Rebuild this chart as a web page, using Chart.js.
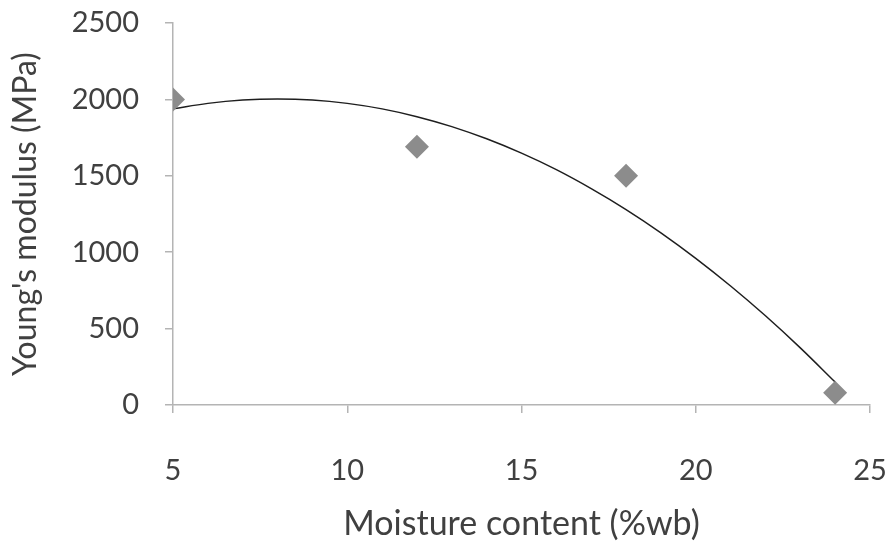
<!DOCTYPE html>
<html>
<head>
<meta charset="utf-8">
<script src="https://cdn.jsdelivr.net/npm/chart.js@4.4.1/dist/chart.umd.min.js"></script>
<style>
  html, body { margin: 0; padding: 0; background: #fff; }
  #wrap { width: 888px; height: 546px; }
</style>
</head>
<body>
<div id="wrap"><canvas id="chart" width="888" height="546"></canvas></div>
<script>
// measured points
const moisture = [5, 12, 18, 24];
const modulus = [2000, 1690, 1500, 80];

// trend line
const trendX = [5, 6, 7, 8, 9, 10, 11, 12, 13, 14, 15, 16, 17, 18, 19, 20, 21, 22, 23, 24];
const trendY = [1938, 1974, 1996, 2003, 1996, 1974, 1938, 1887, 1822, 1742, 1648, 1540, 1416, 1279, 1127, 960, 779, 584, 374, 150];

const xTicks = [5, 10, 15, 20, 25];
const yTicks = [0, 500, 1000, 1500, 2000, 2500];

const textColor = '#404040';
const axisColor = '#b4b4b4';
const font = 'Lato, "Open Sans", sans-serif';

var ctx = document.getElementById('chart');
new Chart(ctx, {
  type: 'scatter',
  data: {
    datasets: [{
      label: 'trend',
      data: trendX.map((x, i) => ({x: x, y: trendY[i]})),
      showLine: true,
      borderColor: '#1e1e1e',
      borderWidth: 1.5,
      pointRadius: 0,
      tension: 0.4,
      order: 2
    }, {
      label: 'data',
      data: moisture.map((x, i) => ({x: x, y: modulus[i]})),
      pointStyle: 'rectRot',
      pointRadius: 12,
      backgroundColor: '#8c8c8c',
      borderColor: '#8c8c8c',
      borderWidth: 0,
      order: 1
    }]
  },
  options: {
    responsive: false,
    animation: false,
    events: [],
    layout: { padding: { top: 23, right: 18, left: 0, bottom: 0 } },
    plugins: { legend: { display: false }, tooltip: { enabled: false } },
    scales: {
      x: {
        type: 'linear',
        min: 5, max: 25,
        afterBuildTicks: s => { s.ticks = xTicks.map(v => ({value: v})); },
        afterFit: s => { s.height = 141; s.paddingRight = 0; s.paddingLeft = 0; },
        border: { color: axisColor, width: 1.5 },
        grid: { drawOnChartArea: false, color: axisColor, tickLength: 8, lineWidth: 1.5 },
        ticks: { color: textColor, font: { family: font, size: 29 }, padding: 40, maxRotation: 0,
                 callback: v => String(v) },
        title: { display: true, text: 'Moisture content (%wb)', color: textColor,
                 font: { family: font, size: 34 }, padding: { top: 10, bottom: 2 } }
      },
      y: {
        min: 0, max: 2500,
        afterBuildTicks: s => { s.ticks = yTicks.map(v => ({value: v})); },
        afterFit: s => { s.width = 173; s.paddingTop = 0; s.paddingBottom = 0; },
        border: { color: axisColor, width: 1.5 },
        grid: { drawOnChartArea: false, color: axisColor, tickLength: 8, lineWidth: 1.5 },
        ticks: { color: textColor, font: { family: font, size: 29 }, padding: 26,
                 callback: v => String(v) },
        title: { display: true, text: "Young's modulus (MPa)", color: textColor,
                 font: { family: font, size: 32 }, padding: { top: 6, bottom: 0 } }
      }
    }
  }
});
</script>
</body>
</html>
